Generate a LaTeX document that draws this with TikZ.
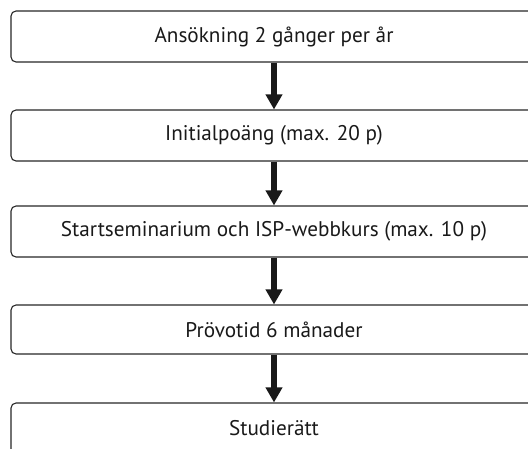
\documentclass[tikz,border=0pt]{standalone}
\usepackage{fontspec}
\setmainfont{PT Sans}
\usetikzlibrary{arrows.meta}
\begin{document}
\begin{tikzpicture}[x=1pt,y=-1pt,
  stepbox/.style={draw=black!85,line width=1.1pt,rounded corners=5pt,minimum width=526pt,minimum height=51pt,inner sep=0pt,font=\fontsize{21.2}{24}\selectfont,text=black!90},
  flow/.style={draw=black!90,line width=6pt,-{Triangle[width=16pt,length=15pt]}}]
\useasboundingbox (0,0) rectangle (528,448);
\node[stepbox] (a) at (274,36.5) {Ansökning 2 gånger per år};
\node[stepbox] (b) at (274,135.5) {Initialpoäng (max. 20 p)};
\node[stepbox] (c) at (274,231.5) {Startseminarium och ISP-webbkurs (max. 10 p)};
\node[stepbox,minimum height=49pt] (d) at (274,329.5) {Prövotid 6 månader};
\node[stepbox] (e) at (274,428.5) {Studierätt};
\draw[flow] (a.south) -- (b.north);
\draw[flow] (b.south) -- (c.north);
\draw[flow] (c.south) -- (d.north);
\draw[flow] (d.south) -- (e.north);
\end{tikzpicture}
\end{document}
